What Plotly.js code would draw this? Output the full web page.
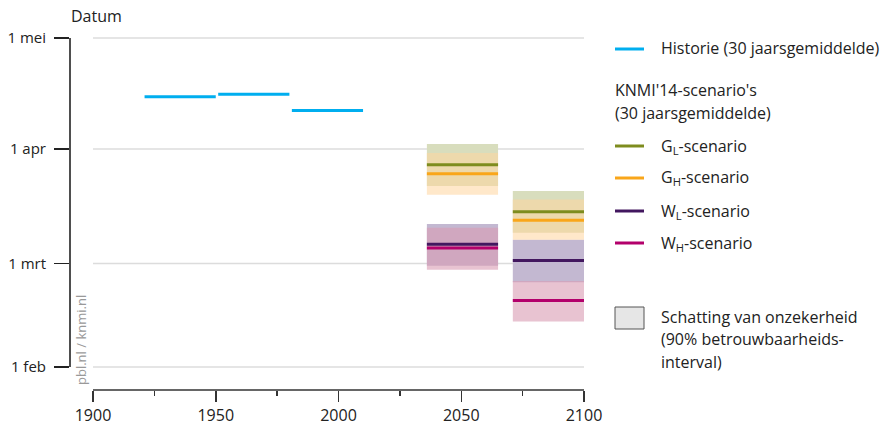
<!DOCTYPE html>
<html>
<head>
<meta charset="utf-8">
<script src="https://cdn.plot.ly/plotly-3.0.1.min.js"></script>
<style>html,body{margin:0;padding:0;background:#fff;}#chart{width:892px;height:429px;}</style>
</head>
<body>
<div id="chart"></div>
<script>
// Day-of-year values (1 feb = 32, 1 mrt = 60, 1 apr = 91, 1 mei = 121)
const tickDays = [32, 60, 91, 121];
const tickLabels = ["1 feb", "1 mrt", "1 apr", "1 mei"];
const xTicks = [1900, 1950, 2000, 2050, 2100];

// History (30-year means)
const histStart = [1921, 1951, 1981];
const histEnd   = [1950, 1980, 2010];
const histDay   = [105.1, 105.8, 101.4];

// KNMI'14 scenarios
const scenStart = [2036, 2071];
const scenEnd   = [2065, 2100];
const glMean = [86.7, 74.0], glLow = [81.0, 68.3], glHigh = [92.3, 79.6];
const ghMean = [84.3, 71.7], ghLow = [78.6, 66.4], ghHigh = [89.9, 77.3];
const wlMean = [65.2, 60.8], wlLow = [59.4, 54.9], wlHigh = [70.7, 66.4];
const whMean = [64.2, 50.0], whLow = [58.3, 44.3], whHigh = [69.7, 55.3];

const FONT = "Open Sans, Noto Sans, sans-serif";
const C = {
  hist: "#00AEEF",
  gl: "#7E8C1E", gh: "#F9A61A", wl: "#42175F", wh: "#B3006B",
  glBand: "rgba(216,221,189,1)", ghBand: "rgba(255,213,159,0.55)",
  wlBand: "rgba(195,184,209,1)", whBand: "rgba(217,155,178,0.6)"
};

const traces = [];
function band(low, high, color) {
  for (let i = 0; i < scenStart.length; i++) {
    traces.push({
      type: "scatter", mode: "lines", showlegend: false, hoverinfo: "skip",
      x: [scenStart[i], scenEnd[i], scenEnd[i], scenStart[i], scenStart[i]],
      y: [low[i], low[i], high[i], high[i], low[i]],
      fill: "toself", fillcolor: color, line: {width: 0}
    });
  }
}
function segs(starts, ends, vals, color) {
  const x = [], y = [];
  for (let i = 0; i < starts.length; i++) {
    x.push(starts[i], ends[i], null);
    y.push(vals[i], vals[i], null);
  }
  traces.push({type: "scatter", mode: "lines", showlegend: false, x, y,
    line: {color, width: 3}});
}
band(wlLow, wlHigh, C.wlBand);
band(whLow, whHigh, C.whBand);
band(glLow, glHigh, C.glBand);
band(ghLow, ghHigh, C.ghBand);
segs(histStart, histEnd, histDay, C.hist);
segs(scenStart, scenEnd, glMean, C.gl);
segs(scenStart, scenEnd, ghMean, C.gh);
segs(scenStart, scenEnd, wlMean, C.wl);
segs(scenStart, scenEnd, whMean, C.wh);

// pixel helpers for legend placement (plot area: x 70..584, y 37..390)
const L = 70, R = 584, T = 37, B = 390;
const px = v => (v - L) / (R - L);
const py = v => (B - v) / (B - T);

const shapes = [];
tickDays.forEach(d => shapes.push({type: "line", layer: "below", xref: "x", yref: "y",
  x0: 1900, x1: 2100, y0: d, y1: d, line: {color: "#dcdcdc", width: 1.5}}));
shapes.push({type: "line", xref: "paper", yref: "y", x0: 0, x1: 0, y0: 32, y1: 121,
  line: {color: "#222", width: 1.6}});
shapes.push({type: "line", xref: "x", yref: "paper", x0: 1900, x1: 2100, y0: 0, y1: 0,
  line: {color: "#333", width: 1.6}});

const annotations = [];
function txt(text, x, y, opts) {
  annotations.push(Object.assign({text, xref: "paper", yref: "paper", x: px(x), y: py(y),
    xanchor: "left", yanchor: "middle", showarrow: false,
    font: {family: FONT, size: 16, color: "#222"}}, opts || {}));
}
function legLine(y, color) {
  shapes.push({type: "line", xref: "paper", yref: "paper", x0: px(615), x1: px(644),
    y0: py(y), y1: py(y), line: {color, width: 3}});
}
legLine(49, C.hist); txt("Historie (30 jaarsgemiddelde)", 659, 48);
txt("KNMI'14-scenario's", 613, 90);
txt("(30 jaarsgemiddelde)", 613, 113);
legLine(146, C.gl); txt("G<sub>L</sub>-scenario", 659, 146);
legLine(178, C.gh); txt("G<sub>H</sub>-scenario", 659, 178);
legLine(211, C.wl); txt("W<sub>L</sub>-scenario", 659, 211);
legLine(243, C.wh); txt("W<sub>H</sub>-scenario", 659, 243);
shapes.push({type: "rect", xref: "paper", yref: "paper", x0: px(615), x1: px(644),
  y0: py(307), y1: py(329), fillcolor: "#e6e6e6", line: {color: "#555", width: 1}});
txt("Schatting van onzekerheid", 659, 317);
txt("(90% betrouwbaarheids-", 659, 339);
txt("interval)", 659, 362);
txt("Datum", 69, 16);
annotations.push({text: "pbl.nl / knmi.nl", xref: "paper", yref: "paper", x: px(81), y: py(340),
  textangle: -90, showarrow: false, xanchor: "center", yanchor: "middle",
  font: {family: FONT, size: 13, color: "#999"}});

const layout = {
  width: 892, height: 429,
  margin: {l: L, r: 892 - R, t: T, b: 429 - B, pad: 0},
  paper_bgcolor: "#fff", plot_bgcolor: "#fff",
  showlegend: false,
  font: {family: FONT, size: 15, color: "#222"},
  xaxis: {
    range: [1900 - 23 / 2.455, 2100], showgrid: false, zeroline: false, showline: false,
    tickmode: "array", tickvals: xTicks, ticktext: xTicks.map(String),
    ticks: "outside", ticklen: 11, tickwidth: 1.5, tickcolor: "#333",
    minor: {tickmode: "array", tickvals: [1925, 1975, 2025, 2075], ticks: "outside", ticklen: 5, tickwidth: 1.5, tickcolor: "#333", showgrid: false},
    tickfont: {family: FONT, size: 16, color: "#222"}, fixedrange: true
  },
  yaxis: {
    range: [121 + 1 / 3.697 - 353 / 3.697, 121 + 1 / 3.697],
    showgrid: false, zeroline: false, showline: false,
    tickmode: "array", tickvals: tickDays, ticktext: tickLabels,
    ticks: "outside", ticklen: 15, tickwidth: 1.5, tickcolor: "#222",
    ticklabelstandoff: 5,
    tickfont: {family: FONT, size: 15, color: "#222"}, fixedrange: true
  },
  shapes, annotations
};
Plotly.newPlot("chart", traces, layout, {displayModeBar: false, staticPlot: true});
</script>
</body>
</html>
